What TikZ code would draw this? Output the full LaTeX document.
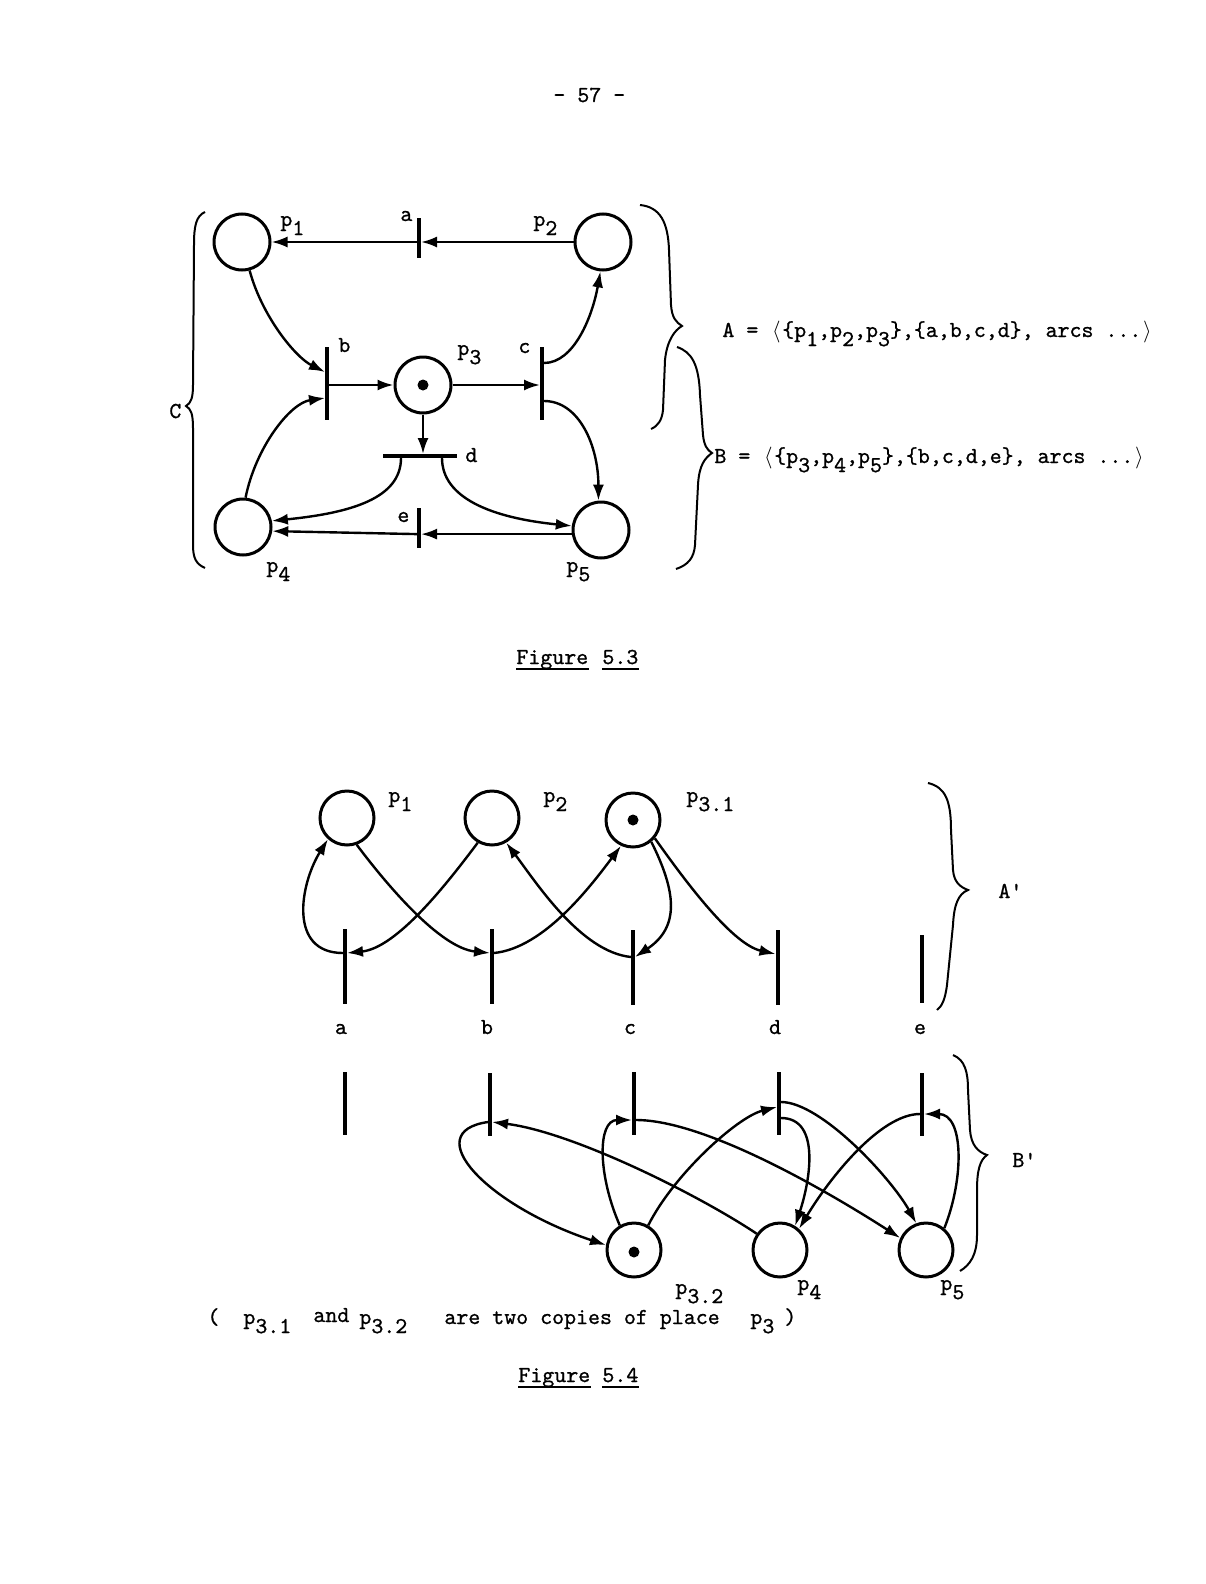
\documentclass[tikz,border=0pt]{standalone}
\usepackage{fontspec}
\usetikzlibrary{arrows.meta}
\newfontfamily\twfont{lmmono10-regular.otf}[FakeBold=0.9]
\newcommand{\lw}[1]{\raisebox{-0.4em}{#1}}
\newcommand{\lang}{\makebox[0.525em]{$\langle$}}
\newcommand{\rang}{\makebox[0.525em]{$\rangle$}}
\begin{document}
\begin{tikzpicture}[x=0.5pt,y=-0.5pt,
  place/.style={circle, draw, line width=1.5pt, minimum size=28pt, inner sep=0pt},
  placeb/.style={place, minimum size=27pt},
  tbar/.style={rectangle, fill=black, draw=none, inner sep=0pt, minimum width=1.6pt},
  arc/.style={line width=1.2pt, -{Latex[length=8pt,width=5.5pt]}},
  brace/.style={line width=1pt},
  lbl/.style={font=\fontsize{11.4pt}{13pt}\selectfont\twfont, inner sep=0pt, anchor=base west},
  clbl/.style={lbl, anchor=base},
  token/.style={circle, fill=black, inner sep=0pt, minimum size=5.5pt}]

\fill[white] (0,0) rectangle (1205,1584);
\useasboundingbox (0,0) rectangle (1205,1584);

% page number
\node[lbl] (pg) at (553,102) {- 57 -};

% ================= Figure 5.3 =================
\node[place] (P1) at (242,242) {};
\node[place] (P2) at (603,242) {};
\node[place] (P3) at (423,385) {};
\node[token] (P3t) at (P3) {};
\node[place] (P4) at (243,527) {};
\node[place] (P5) at (601,530) {};

\node[tbar, minimum height=20pt] (ta) at (419,238) {};
\node[tbar, minimum height=36.5pt] (tb) at (327,383.5) {};
\node[tbar, minimum height=36.5pt] (tc) at (542,383.5) {};
\node[tbar, minimum height=1.6pt, minimum width=37pt] (td) at (420,456) {};
\node[tbar, minimum height=20pt] (te) at (419,528) {};

\draw[arc] (P2.west) -- (P2.west -| ta.east);
\draw[arc] (P2.west -| ta.west) -- (P1.east);
\draw[arc] (P1.285) .. controls +(12,45) and +(-30,-15) .. ([yshift=5.75pt]tb.west);
\draw[arc] (P4.85) .. controls +(10,-50) and +(-35,5) .. ([yshift=-7.25pt]tb.west);
\draw[arc] (tb.east |- P3.west) -- (P3.west);
\draw[arc] (P3.east) -- (P3.east -| tc.west);
\draw[arc] ([yshift=10.25pt]tc.east) .. controls +(30,0) and +(-8,45) .. (P2.265);
\draw[arc] ([yshift=-8.75pt]tc.east) .. controls +(35,0) and +(0,-55) .. (P5.95);
\draw[arc] (P3.south) -- (P3.south |- td.north);
\draw[arc] ([xshift=-9.5pt]td.south) .. controls +(0,40) and +(80,-8) .. (P4.12);
\draw[arc] ([xshift=11pt]td.south) .. controls +(0,40) and +(-80,-8) .. (P5.172);
\draw[arc] (P5.188) -- (P5.188 -| te.east);
\draw[arc] (P5.188 -| te.west) -- (P4.-8);

\node[lbl] (lp1) at (280,226) {p\lw{1}};
\node[lbl] (la1) at (400,221) {a};
\node[lbl] (lp2) at (533,226) {p\lw{2}};
\node[lbl] (lb1) at (338,352) {b};
\node[lbl] (lp3) at (457,355) {p\lw{3}};
\node[lbl] (lc1) at (518,353) {c};
\node[lbl] (ld1) at (465,462) {d};
\node[lbl] (le1) at (397,522) {e};
\node[lbl] (lp4) at (266,572) {p\lw{4}};
\node[lbl] (lp5) at (566,572) {p\lw{5}};
\node[lbl] (lC) at (169,418) {C};

% braces
\draw[brace] (205,212) .. controls (196,216) and (194,226) .. (194,245)
  -- (193,385) .. controls (193,398) and (191,403) .. (186,406)
  .. controls (191,409) and (193,414) .. (193,428)
  -- (193,545) .. controls (193,558) and (196,564) .. (205,568);
\draw[brace] (640,205) .. controls (660,207) and (668,222) .. (669,250)
  -- (671,305) .. controls (672,318) and (676,322) .. (682,326)
  .. controls (675,330) and (667,340) .. (665,360)
  -- (663,410) .. controls (662,420) and (658,426) .. (651,429);
\draw[brace] (677,347) .. controls (692,352) and (699,365) .. (700,395)
  -- (703,435) .. controls (704,445) and (707,450) .. (712,453)
  .. controls (705,458) and (699,465) .. (698,485)
  -- (695,545) .. controls (694,558) and (688,565) .. (676,569);

\node[lbl] (tA) at (722,337) {A = \lang\{p\lw{1},p\lw{2},p\lw{3}\},\{a,b,c,d\}, arcs ...\rang};
\node[lbl] (tB) at (714,463) {B = \lang\{p\lw{3},p\lw{4},p\lw{5}\},\{b,c,d,e\}, arcs ...\rang};

\node[lbl] (f3a) at (516,664) {Figure};
\node[lbl] (f3b) at (602,664) {5.3};
\draw[line width=0.9pt] ([yshift=-2.4pt]f3a.base west) -- ([yshift=-2.4pt]f3a.base east);
\draw[line width=0.9pt] ([yshift=-2.4pt]f3b.base west) -- ([yshift=-2.4pt]f3b.base east);

% ================= Figure 5.4 =================
\node[placeb] (Q1) at (347,818) {};
\node[placeb] (Q2) at (492,818) {};
\node[placeb] (Q31) at (633,820) {};
\node[token] (Q31t) at (Q31) {};

\node[tbar, minimum height=37.5pt] (ua) at (345,966) {};
\node[tbar, minimum height=37.5pt] (ub) at (492,966) {};
\node[tbar, minimum height=37.5pt] (uc) at (633,967) {};
\node[tbar, minimum height=37.5pt, minimum width=2.1pt] (ud) at (778,967) {};
\node[tbar, minimum height=34pt, minimum width=2.3pt] (ue) at (922,969) {};

\node[tbar, minimum height=31.5pt, minimum width=1.9pt] (la) at (345,1103) {};
\node[tbar, minimum height=31.5pt] (lb) at (490,1104) {};
\node[tbar, minimum height=31.5pt] (lc) at (634,1103) {};
\node[tbar, minimum height=31.5pt] (ld) at (779,1103) {};
\node[tbar, minimum height=31.5pt] (le) at (922,1104) {};

\node[placeb] (Q32) at (634,1250) {};
\node[token] (Q32t) at ([yshift=-1pt]Q32.center) {};
\node[placeb] (Q4) at (780,1250) {};
\node[placeb] (Q5) at (926,1250) {};

% upper arcs
\draw[arc] ([yshift=6.5pt]ua.west) .. controls +(-55,0) and +(-28,45) .. (Q1.228);
\draw[arc] (Q1.-70) .. controls +(30,40) and +(-50,-5) .. ([yshift=6.5pt]ub.west);
\draw[arc] (Q2.-120) .. controls +(-30,40) and +(50,-5) .. ([yshift=6.5pt]ua.east);
\draw[arc] ([yshift=6.5pt]ub.east) .. controls +(50,-5) and +(-30,40) .. (Q31.-115);
\draw[arc] ([yshift=5pt]uc.west) .. controls +(-50,-5) and +(30,40) .. (Q2.-60);
\draw[arc] (Q31.-50) .. controls +(25,50) and +(45,-30) .. ([yshift=5pt]uc.east);
\draw[arc] (Q31.-40) .. controls +(25,35) and +(-45,-10) .. ([yshift=6.5pt]ud.west);

% lower arcs
\draw[arc] ([yshift=-9pt]lb.west) .. controls +(-70,10) and +(-120,-40) .. (Q32.170);
\draw[arc] (Q4.145) .. controls +(-60,-40) and +(80,10) .. ([yshift=-9pt]lb.east);
\draw[arc] (Q32.120) .. controls +(-22,-50) and +(-35,0) .. ([yshift=-8.5pt]lc.west);
\draw[arc] ([yshift=-8.5pt]lc.east) .. controls +(70,0) and +(-70,-45) .. (Q5.155);
\draw[arc] (Q32.60) .. controls +(25,-50) and +(-40,10) .. ([yshift=-2pt]ld.west);
\draw[arc] ([yshift=0.5pt]ld.east) .. controls +(40,0) and +(-25,-45) .. (Q5.110);
\draw[arc] ([yshift=-7.5pt]ld.east) .. controls +(40,0) and +(15,-45) .. (Q4.58);
\draw[arc] ([yshift=-5pt]le.west) .. controls +(-40,0) and +(30,-50) .. (Q4.48);
\draw[arc] (Q5.50) .. controls +(20,-50) and +(40,0) .. ([yshift=-5pt]le.east);

% labels
\node[lbl] (mp1) at (388,802) {p\lw{1}};
\node[lbl] (mp2) at (543,802) {p\lw{2}};
\node[lbl] (mp31) at (686,802) {p\lw{3.1}};
\node[clbl] (ma) at (341,1034) {a};
\node[clbl] (mb) at (487,1034) {b};
\node[clbl] (mc) at (630,1034) {c};
\node[clbl] (md) at (775,1034) {d};
\node[clbl] (me) at (920,1034) {e};
\node[lbl] (mp32) at (675,1294) {p\lw{3.2}};
\node[lbl] (mp4) at (797,1290) {p\lw{4}};
\node[lbl] (mp5) at (940,1290) {p\lw{5}};
\node[lbl] (mA) at (998,898) {A'};
\node[lbl] (mB) at (1012,1167) {B'};

\draw[brace] (928,783) .. controls (945,787) and (951,800) .. (951,830)
  -- (953,870) .. controls (954,882) and (960,887) .. (968,890)
  .. controls (958,894) and (954,905) .. (953,925)
  -- (947,985) .. controls (945,1000) and (942,1006) .. (937,1010);
\draw[brace] (953,1055) .. controls (965,1060) and (968,1072) .. (968,1090)
  -- (970,1130) .. controls (971,1145) and (978,1152) .. (987,1155)
  .. controls (980,1160) and (977,1170) .. (977,1190)
  -- (977,1235) .. controls (977,1255) and (970,1265) .. (960,1271);

% caption line
\node[lbl] (c1) at (207,1324) {(};
\node[lbl] (c2) at (243,1324) {p\lw{3.1}};
\node[lbl] (c3) at (313,1322) {and};
\node[lbl] (c4) at (359,1324) {p\lw{3.2}};
\node[lbl] (c5) at (444,1324) {are two copies of place};
\node[lbl] (c6) at (750,1324) {p\lw{3}};
\node[lbl] (c7) at (784,1324) {)};

\node[lbl] (f4a) at (518,1382) {Figure};
\node[lbl] (f4b) at (602,1382) {5.4};
\draw[line width=0.9pt] ([yshift=-2.4pt]f4a.base west) -- ([yshift=-2.4pt]f4a.base east);
\draw[line width=0.9pt] ([yshift=-2.4pt]f4b.base west) -- ([yshift=-2.4pt]f4b.base east);
\end{tikzpicture}
\end{document}
